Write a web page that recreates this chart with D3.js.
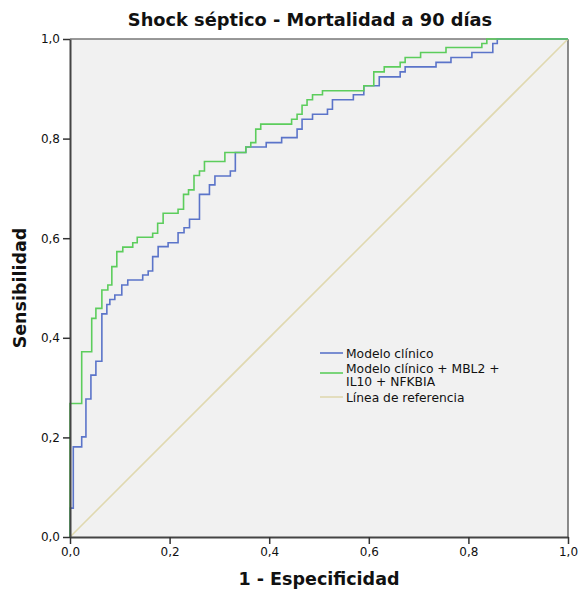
<!DOCTYPE html>
<html><head><meta charset="utf-8">
<script src="https://cdn.jsdelivr.net/npm/d3@7"></script>
<style>
html,body{margin:0;padding:0;background:#fff;}
svg{display:block;font-family:"DejaVu Sans",Verdana,sans-serif;}
</style></head>
<body><svg id="chart" width="578" height="592"></svg>
<script>
// ---- data ----
const title = "Shock séptico - Mortalidad a 90 días";
const xLabel = "1 - Especificidad";
const yLabel = "Sensibilidad";
const tickValues = [0, 0.2, 0.4, 0.6, 0.8, 1.0];
const seriesNames = ["Modelo clínico", "Modelo clínico + MBL2 +\nIL10 + NFKBIA", "Línea de referencia"];

// Modelo clínico: ROC points (1 - especificidad, sensibilidad)
const clinFpr = [0, 0, 0.0066, 0.0235, 0.032, 0.042, 0.052, 0.064, 0.074, 0.080, 0.090, 0.104, 0.116, 0.146, 0.157, 0.166, 0.177, 0.197, 0.217, 0.229, 0.240, 0.260, 0.280, 0.291, 0.322, 0.332, 0.353, 0.394, 0.425, 0.456, 0.466, 0.487, 0.517, 0.527, 0.569, 0.590, 0.621, 0.663, 0.673, 0.735, 0.765, 0.807, 0.849, 0.858, 1.0];
const clinTpr = [0, 0.058, 0.181, 0.201, 0.277, 0.325, 0.353, 0.448, 0.467, 0.477, 0.486, 0.506, 0.516, 0.526, 0.534, 0.563, 0.583, 0.591, 0.611, 0.621, 0.638, 0.688, 0.707, 0.725, 0.735, 0.772, 0.783, 0.792, 0.802, 0.819, 0.839, 0.849, 0.859, 0.878, 0.888, 0.906, 0.924, 0.934, 0.944, 0.953, 0.963, 0.973, 0.991, 1.0, 1.0];

// Modelo clínico + MBL2 + IL10 + NFKBIA
const combFpr = [0, 0, 0.0235, 0.0436, 0.052, 0.064, 0.076, 0.084, 0.094, 0.106, 0.126, 0.135, 0.166, 0.176, 0.187, 0.217, 0.228, 0.238, 0.249, 0.260, 0.270, 0.311, 0.353, 0.363, 0.373, 0.383, 0.445, 0.456, 0.466, 0.476, 0.487, 0.507, 0.590, 0.610, 0.631, 0.663, 0.673, 0.704, 0.755, 0.827, 0.837, 1.0];
const combTpr = [0, 0.268, 0.372, 0.439, 0.459, 0.496, 0.506, 0.543, 0.573, 0.582, 0.591, 0.602, 0.610, 0.630, 0.650, 0.658, 0.688, 0.697, 0.726, 0.735, 0.754, 0.772, 0.783, 0.792, 0.819, 0.829, 0.839, 0.849, 0.867, 0.878, 0.888, 0.896, 0.906, 0.934, 0.944, 0.953, 0.963, 0.973, 0.983, 0.991, 1.0, 1.0];

// Línea de referencia
const refFpr = [0, 1];
const refTpr = [0, 1];

const colors = ["#5b74c9", "#5ccd5c", "#e0d9b0"];

// ---- layout ----
const svg = d3.select("#chart");
const L = 70, R = 568, T = 39, B = 537;
const x = d3.scaleLinear().domain([0, 1]).range([L, R]);
const y = d3.scaleLinear().domain([0, 1]).range([B, T]);
const fmt = v => d3.format(".1f")(v).replace(".", ",");

svg.append("rect").attr("x", L).attr("y", T).attr("width", R - L).attr("height", B - T)
  .attr("fill", "#f1f1f1").attr("stroke", "none");
// top & right frame
svg.append("line").attr("x1", L).attr("x2", R).attr("y1", T).attr("y2", T).attr("stroke", "#777").attr("stroke-width", 1.5);
svg.append("line").attr("x1", R).attr("x2", R).attr("y1", T).attr("y2", B).attr("stroke", "#666").attr("stroke-width", 1.5);

const stepLine = d3.line().x(d => x(d[0])).y(d => y(d[1])).curve(d3.curveStepAfter);
const straight = d3.line().x(d => x(d[0])).y(d => y(d[1]));
const series = [
  {pts: d3.zip(refFpr, refTpr), c: colors[2], gen: straight},
  {pts: d3.zip(clinFpr, clinTpr), c: colors[0], gen: stepLine},
  {pts: d3.zip(combFpr, combTpr), c: colors[1], gen: stepLine}
];
series.forEach(s => {
  svg.append("path").datum(s.pts).attr("d", s.gen).attr("fill", "none")
    .attr("stroke", s.c).attr("stroke-width", 1.6);
});

// axes
const yAxis = d3.axisLeft(y).tickValues(tickValues).tickFormat(fmt).tickSize(7).tickPadding(3).tickSizeOuter(0);
const xAxis = d3.axisBottom(x).tickValues(tickValues).tickFormat(fmt).tickSize(7).tickPadding(3).tickSizeOuter(0);
const gy = svg.append("g").attr("transform", `translate(${L},0)`).call(yAxis);
const gx = svg.append("g").attr("transform", `translate(0,${B})`).call(xAxis);
[gx, gy].forEach(g => {
  g.select(".domain").attr("stroke", "#444").attr("stroke-width", 2);
  g.selectAll(".tick line").attr("stroke", "#333").attr("stroke-width", 1.5);
  g.selectAll(".tick text").attr("font-size", 12).attr("fill", "#111")
    .attr("font-family", "DejaVu Sans, sans-serif");
});

// titles
svg.append("text").attr("x", 310).attr("y", 26).attr("text-anchor", "middle")
  .attr("font-size", 17.8).attr("font-weight", "bold").attr("fill", "#111").text(title);
svg.append("text").attr("x", 319).attr("y", 585).attr("text-anchor", "middle")
  .attr("font-size", 17.5).attr("font-weight", "bold").attr("fill", "#111").text(xLabel);
svg.append("text").attr("transform", "translate(26,288) rotate(-90)").attr("text-anchor", "middle")
  .attr("font-size", 17.5).attr("font-weight", "bold").attr("fill", "#111").text(yLabel);

// legend
const legY = [353, 373, 397];
const lg = svg.append("g");
seriesNames.forEach((name, i) => {
  lg.append("line").attr("x1", 320).attr("x2", 343).attr("y1", legY[i]).attr("y2", legY[i])
    .attr("stroke", colors[i]).attr("stroke-width", 1.6);
  const lines = name.split("\n");
  const t = lg.append("text").attr("x", 346).attr("font-size", 12.3).attr("fill", "#111");
  const y0 = lines.length === 1 ? legY[i] + 4.5 : legY[i] - 0.5;
  lines.forEach((ln, j) => {
    t.append("tspan").attr("x", 346).attr("y", y0 + j * 13).text(ln);
  });
});
</script></body></html>
